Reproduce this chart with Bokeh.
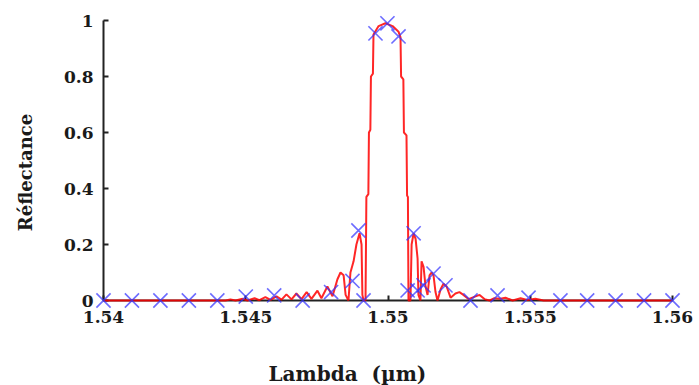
import math
from bokeh.plotting import figure
from bokeh.models import Range1d, FixedTicker, ColumnDataSource
from bokeh.core.properties import value
from bokeh.embed import file_html
from bokeh.resources import INLINE

# Red curve: simulated reflectance spectrum (wavelength in µm)
red_lambda = [1.54000, 1.54429, 1.54446, 1.54464, 1.54489, 1.54506, 1.54531, 1.54548,
              1.54569, 1.54587, 1.54608, 1.54626, 1.54643, 1.54661, 1.54678, 1.54696,
              1.54714, 1.54731, 1.54752, 1.54766, 1.54787, 1.54805, 1.54822, 1.54833,
              1.54844, 1.54851, 1.54861, 1.54868, 1.54879, 1.54889, 1.54900, 1.54907,
              1.54910, 1.54914, 1.54921, 1.54924, 1.54931, 1.54933, 1.54938, 1.54940,
              1.54947, 1.54949, 1.54967, 1.54991, 1.55016, 1.55037, 1.55044, 1.55046,
              1.55054, 1.55056, 1.55065, 1.55067, 1.55070, 1.55072, 1.55079, 1.55083,
              1.55090, 1.55097, 1.55104, 1.55107, 1.55114, 1.55118, 1.55125, 1.55132,
              1.55139, 1.55146, 1.55153, 1.55160, 1.55167, 1.55174, 1.55185, 1.55195,
              1.55206, 1.55220, 1.55237, 1.55251, 1.55265, 1.55283, 1.55301, 1.55322,
              1.55339, 1.55357, 1.55374, 1.55395, 1.55413, 1.55438, 1.55466, 1.55490,
              1.55518, 1.55547, 1.55582, 1.56000]
red_refl = [0.0, 0.0, 0.004, 0.0, 0.006, 0.0, 0.008, 0.001,
            0.012, 0.002, 0.015, 0.003, 0.022, 0.004, 0.025, 0.005,
            0.03, 0.006, 0.035, 0.008, 0.05, 0.015, 0.075, 0.10,
            0.09, 0.02, 0.0, 0.10, 0.14, 0.20, 0.24, 0.20,
            0.02, 0.0, 0.0, 0.37, 0.38, 0.60, 0.61, 0.80,
            0.81, 0.95, 0.98, 0.99, 0.98, 0.96, 0.94, 0.80,
            0.79, 0.60, 0.59, 0.375, 0.37, 0.0, 0.0, 0.20,
            0.24, 0.22, 0.15, 0.02, 0.0, 0.14, 0.12, 0.05,
            0.02, 0.09, 0.10, 0.09, 0.03, 0.0, 0.04, 0.06,
            0.05, 0.01, 0.025, 0.03, 0.02, 0.005, 0.012, 0.02,
            0.005, 0.0, 0.008, 0.006, 0.01, 0.0, 0.008, 0.002,
            0.006, 0.0, 0.0, 0.0]

# Blue crosses: sampled model points
blue_lambda = [1.540, 1.541, 1.542, 1.543, 1.544, 1.545, 1.546, 1.547, 1.548,
               1.54875, 1.54896, 1.54914, 1.54956, 1.54998, 1.55037, 1.55069,
               1.55090, 1.55104, 1.55125, 1.55160, 1.55202, 1.55290, 1.55385,
               1.55494, 1.55606, 1.557, 1.558, 1.559, 1.560]
blue_refl = [0.0, 0.0, 0.0, 0.0, 0.0, 0.014, 0.018, 0.0, 0.03,
             0.07, 0.25, 0.0, 0.954, 0.99, 0.943, 0.036,
             0.24, 0.036, 0.054, 0.096, 0.054, 0.0, 0.018,
             0.01, 0.0, 0.0, 0.0, 0.0, 0.0]

x_ticks = [1.54, 1.545, 1.55, 1.555, 1.56]
x_tick_labels = ["1.54", "1.545", "1.55", "1.555", "1.56"]
y_ticks = [0, 0.2, 0.4, 0.6, 0.8, 1.0]
y_tick_labels = ["0", "0.2", "0.4", "0.6", "0.8", "1"]
x_title = "Lambda\u00a0\u00a0(µm)"
y_title = "Réflectance"

p = figure(width=699, height=385, output_backend="svg", toolbar_location=None,
           x_range=Range1d(1.54, 1.56), y_range=Range1d(0, 1),
           min_border_left=103, min_border_right=27, min_border_top=20,
           min_border_bottom=85)
p.outline_line_color = None
p.xgrid.visible = False
p.ygrid.visible = False
p.background_fill_color = "white"
p.border_fill_color = "white"

red_src = ColumnDataSource(dict(x=red_lambda, y=red_refl))
blue_src = ColumnDataSource(dict(x=blue_lambda, y=blue_refl))

p.line("x", "y", source=red_src, line_color="#ff0000", line_width=2, line_alpha=0.85,
       level="overlay")
p.scatter("x", "y", source=blue_src, marker="x", size=20, line_color="#3333ff",
          line_width=1.6, line_alpha=0.72, level="overlay")

font = "DejaVu Serif"
for ax, ticks, labels in ((p.xaxis[0], x_ticks, x_tick_labels), (p.yaxis[0], y_ticks, y_tick_labels)):
    ax.ticker = FixedTicker(ticks=ticks)
    ax.major_label_overrides = {t: l for t, l in zip(ticks, labels)}
    ax.major_tick_in = 5
    ax.major_tick_out = 0
    ax.minor_tick_line_color = None
    ax.axis_line_width = 2
    ax.axis_line_color = "#222222"
    ax.major_tick_line_color = "#222222"
    ax.major_tick_line_width = 2
    ax.major_label_text_font = font
    ax.major_label_text_font_style = "bold"
    ax.major_label_text_font_size = "17px"
    ax.major_label_text_color = "#1a1a1a"

p.xaxis[0].major_label_standoff = 10
p.yaxis[0].major_label_standoff = 10

# Axis titles anchored at the frame's lower-left corner (x=1.54, y=0), offset in pixels
p.text(x=[x_ticks[0]], y=[y_ticks[0]], text=[x_title], x_offset=165, y_offset=73,
       text_align="left", text_baseline="middle", text_font=value(font),
       text_font_style="bold", text_font_size="20px", text_color="#1a1a1a",
       level="overlay")
p.text(x=[x_ticks[0]], y=[y_ticks[0]], text=[y_title], x_offset=-78, y_offset=-128,
       angle=math.pi / 2, text_align="center", text_baseline="middle",
       text_font=value(font), text_font_style="bold", text_font_size="18px",
       text_color="#1a1a1a", level="overlay")

open("out.html", "w").write(file_html(p, INLINE))
